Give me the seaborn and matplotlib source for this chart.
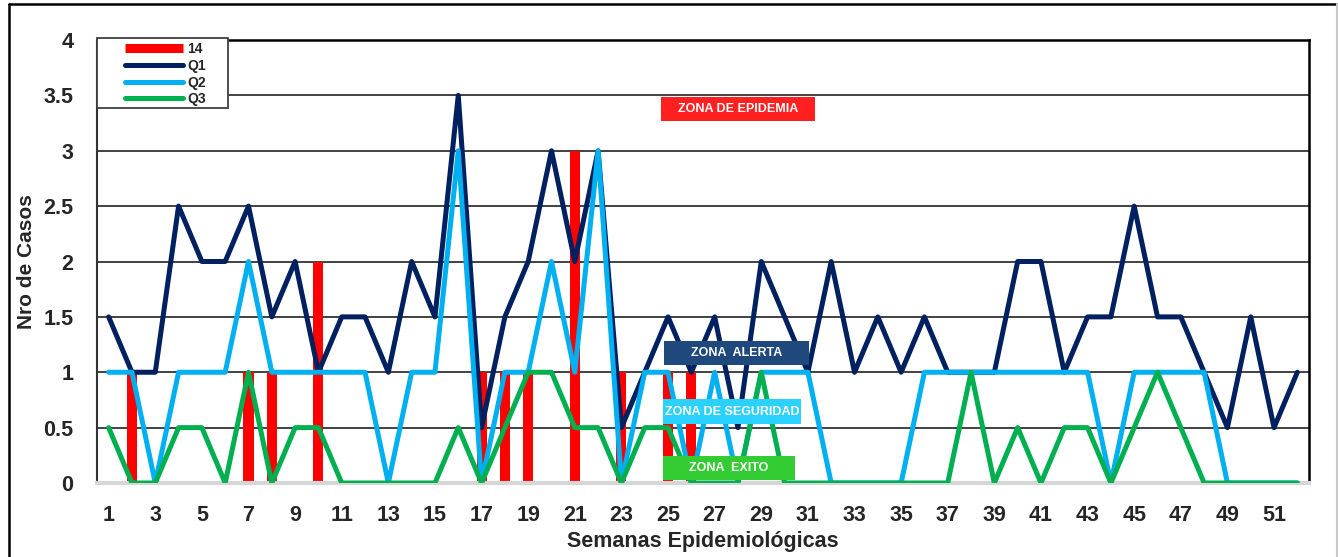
import matplotlib
matplotlib.use('Agg')
import matplotlib.pyplot as plt
import seaborn as sns
import pandas as pd
from matplotlib.lines import Line2D
from matplotlib.patches import Rectangle

# datos por semana epidemiologica
semanas = list(range(1, 53))
casos_14 = [0, 1, 0, 0, 0, 0, 1, 1, 0, 2, 0, 0, 0, 0, 0, 0, 1, 1, 1, 0, 3, 0, 1, 0, 1, 1,
            0, 0, 0, 0, 0, 0, 0, 0, 0, 0, 0, 0, 0, 0, 0, 0, 0, 0, 0, 0, 0, 0, 0, 0, 0, 0]
q1 = [1.5, 1, 1, 2.5, 2, 2, 2.5, 1.5, 2, 1, 1.5, 1.5, 1, 2, 1.5, 3.5, 0.5, 1.5, 2, 3, 2, 3, 0.5, 1, 1.5, 1,
      1.5, 0.5, 2, 1.5, 1, 2, 1, 1.5, 1, 1.5, 1, 1, 1, 2, 2, 1, 1.5, 1.5, 2.5, 1.5, 1.5, 1, 0.5, 1.5, 0.5, 1]
q2 = [1, 1, 0, 1, 1, 1, 2, 1, 1, 1, 1, 1, 0, 1, 1, 3, 0, 1, 1, 2, 1, 3, 0, 1, 1, 0,
      1, 0, 1, 1, 1, 0, 0, 0, 0, 1, 1, 1, 1, 1, 1, 1, 1, 0, 1, 1, 1, 1, 0, 0, 0, 0]
q3 = [0.5, 0, 0, 0.5, 0.5, 0, 1, 0, 0.5, 0.5, 0, 0, 0, 0, 0, 0.5, 0, 0.5, 1, 1, 0.5, 0.5, 0, 0.5, 0.5, 0,
      0, 0, 1, 0, 0, 0, 0, 0, 0, 0, 0, 1, 0, 0.5, 0, 0.5, 0.5, 0, 0.5, 1, 0.5, 0, 0, 0, 0, 0]
ytick_vals = [0, 0.5, 1, 1.5, 2, 2.5, 3, 3.5, 4]
ytick_labels = ['0', '0.5', '1', '1.5', '2', '2.5', '3', '3.5', '4']
xtick_vals = list(range(1, 52, 2))

sns.set_style('white')
plt.rcParams['font.family'] = ['Liberation Sans', 'DejaVu Sans']
plt.rcParams['font.weight'] = 'bold'

W, H = 1338, 557
fig = plt.figure(figsize=(W / 100, H / 100), dpi=100)
ax = fig.add_axes([97 / W, 1 - 483 / H, (1309 - 97) / W, (483 - 40) / H])

df = pd.DataFrame({'semana': semanas, 'c14': casos_14, 'Q1': q1, 'Q2': q2, 'Q3': q3})

sns.barplot(data=df, x='semana', y='c14', native_scale=True, color='#FF0000',
            saturation=1, width=0.43, linewidth=0, errorbar=None, ax=ax, zorder=2)
colores = {'Q1': '#002060', 'Q2': '#00B0F0', 'Q3': '#00B050'}
for serie, col in colores.items():
    sns.lineplot(data=df, x='semana', y=serie, color=col, lw=3.6, ax=ax, zorder=3,
                 solid_joinstyle='round', solid_capstyle='round')

ax.set_xlim(0.5, 52.5)
ax.set_ylim(0, 4)
ax.set_yticks(ytick_vals)
ax.set_yticklabels(ytick_labels)
ax.set_xticks(xtick_vals)
ax.set_xticklabels([str(v) for v in xtick_vals])
ax.tick_params(axis='y', length=0, pad=17, labelsize=15.5)
ax.tick_params(axis='x', length=0, pad=16, labelsize=15.5)
for t in ax.get_xticklabels() + ax.get_yticklabels():
    t.set_fontweight('bold')

ax.set_axisbelow(True)
ax.yaxis.grid(True, color='#333333', lw=1.3)
ax.spines['top'].set_color('black')
ax.spines['top'].set_linewidth(1.8)
ax.spines['right'].set_color('black')
ax.spines['right'].set_linewidth(1.8)
ax.spines['left'].set_color('#333333')
ax.spines['left'].set_linewidth(1.5)
ax.spines['bottom'].set_color('#D6D6D6')
ax.spines['bottom'].set_linewidth(3)

ax.set_xlabel('Semanas Epidemiológicas', fontsize=15.5, fontweight='bold')
ax.set_ylabel('Nro de Casos', fontsize=15, fontweight='bold')
ax.xaxis.set_label_coords(0.5, -0.108)
ax.yaxis.set_label_coords(-0.05, 0.5)

# cajas de zonas
zonas = [
    ('ZONA DE EPIDEMIA', '#FF2020', 24.70, 31.30, 3.269, 3.485),
    ('ZONA  ALERTA', '#1F497D', 24.82, 31.05, 1.065, 1.282),
    ('ZONA DE SEGURIDAD', '#2BD2FF', 24.78, 30.70, 0.533, 0.758),
    ('ZONA  EXITO', '#33CC33', 24.78, 30.44, 0.027, 0.244),
]
for texto, col, x0, x1, y0, y1 in zonas:
    ax.add_patch(Rectangle((x0, y0), x1 - x0, y1 - y0, facecolor=col, edgecolor='none', zorder=6))
    ax.text((x0 + x1) / 2, (y0 + y1) / 2, texto, color='white', fontsize=9, fontweight='bold',
            ha='center', va='center', zorder=7)

# leyenda
ax.add_patch(Rectangle((97 / W, 1 - 108 / H), 131 / W, 70 / H, transform=fig.transFigure,
                       facecolor='white', edgecolor='#404040', lw=1.3, zorder=8, clip_on=False))
handles = [Line2D([], [], color='#FF0000', lw=6.5, solid_capstyle='butt')]
handles += [Line2D([], [], color=c, lw=3.6, solid_capstyle='round') for c in colores.values()]
leg = ax.legend(handles, ['14', 'Q1', 'Q2', 'Q3'], loc='upper left',
                bbox_to_anchor=(125 / W, 1 - 42 / H), bbox_transform=fig.transFigure,
                frameon=False, borderpad=0, borderaxespad=0, handlelength=4.2,
                handletextpad=0.3, labelspacing=0.2, prop={'size': 10, 'weight': 'bold'})
leg.set_zorder(9)

# marco exterior
fig.add_artist(Line2D([9 / W, 9 / W], [0, 1 - 4 / H], color='black', lw=1.8, transform=fig.transFigure))
fig.add_artist(Line2D([9 / W, 1337 / W], [1 - 4 / H, 1 - 4 / H], color='black', lw=1.8, transform=fig.transFigure))
fig.add_artist(Line2D([1337 / W, 1337 / W], [0, 1 - 4 / H], color='#C8C8C8', lw=1.5, transform=fig.transFigure))

fig.savefig('out.png', dpi=100)
